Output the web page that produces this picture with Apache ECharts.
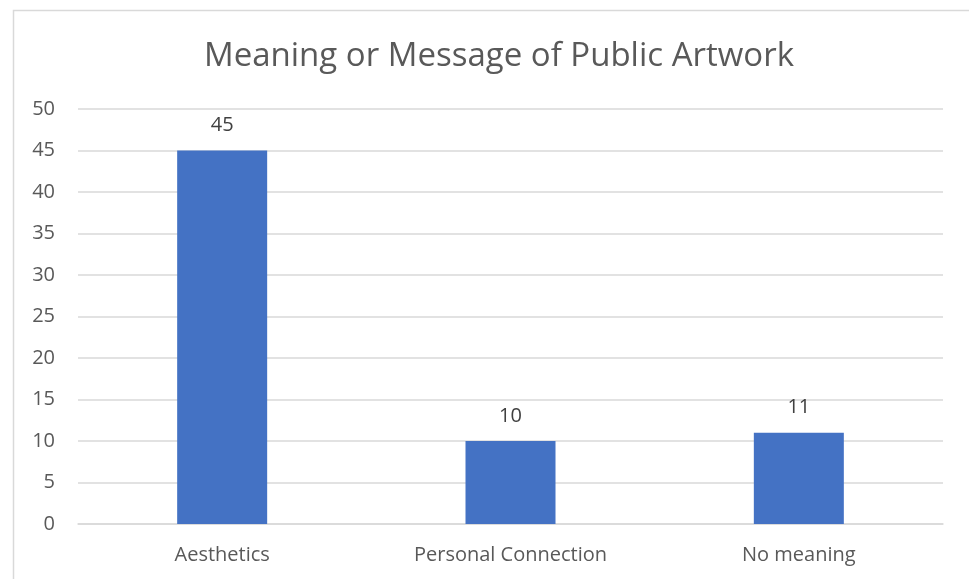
<!DOCTYPE html>
<html>
<head>
<meta charset="utf-8">
<script src="https://cdn.jsdelivr.net/npm/echarts@6/dist/echarts.min.js"></script>
<style>
  html, body { margin: 0; padding: 0; background: #ffffff; }
  #chart { width: 969px; height: 579px; }
</style>
</head>
<body>
<div id="chart"></div>
<script>
// Survey responses by category
const categories = ['Aesthetics', 'Personal Connection', 'No meaning'];
const responses = [45, 10, 11];
const yTicks = { min: 0, max: 50, interval: 5 };

const FONT = '"Open Sans", "Liberation Sans", sans-serif';
const TEXT = '#595959';
const GRID = '#d9d9d9';

const chart = echarts.init(document.getElementById('chart'), null, { renderer: 'canvas' });

chart.setOption({
  backgroundColor: '#ffffff',
  animation: false,
  graphic: [{
    type: 'rect',
    shape: { x: 13.5, y: 10.5, width: 1000, height: 700 },
    style: { fill: 'none', stroke: GRID, lineWidth: 1.5 },
    silent: true,
    z: -1
  }],
  title: {
    text: 'Meaning or Message of Public Artwork',
    left: 494,
    textAlign: 'center',
    top: 35,
    textStyle: { fontFamily: FONT, fontSize: 33, fontWeight: 'normal', color: TEXT }
  },
  grid: { left: 78, right: 26, top: 109, bottom: 55, containLabel: false },
  xAxis: {
    type: 'category',
    data: categories,
    axisLine: { show: true, lineStyle: { color: GRID, width: 1.5 } },
    axisTick: { show: false },
    axisLabel: { fontFamily: FONT, fontSize: 20, color: TEXT, margin: 21 }
  },
  yAxis: {
    type: 'value',
    min: yTicks.min,
    max: yTicks.max,
    interval: yTicks.interval,
    axisLine: { show: false },
    axisTick: { show: false },
    axisLabel: { fontFamily: FONT, fontSize: 20, color: TEXT, margin: 23 },
    splitLine: { lineStyle: { color: GRID, width: 1.5 } }
  },
  series: [{
    type: 'bar',
    data: responses,
    barWidth: 90,
    itemStyle: { color: '#4472c4' },
    label: {
      show: true,
      position: 'top',
      distance: 15,
      fontFamily: FONT,
      fontSize: 20,
      color: '#404040'
    }
  }]
});
</script>
</body>
</html>
